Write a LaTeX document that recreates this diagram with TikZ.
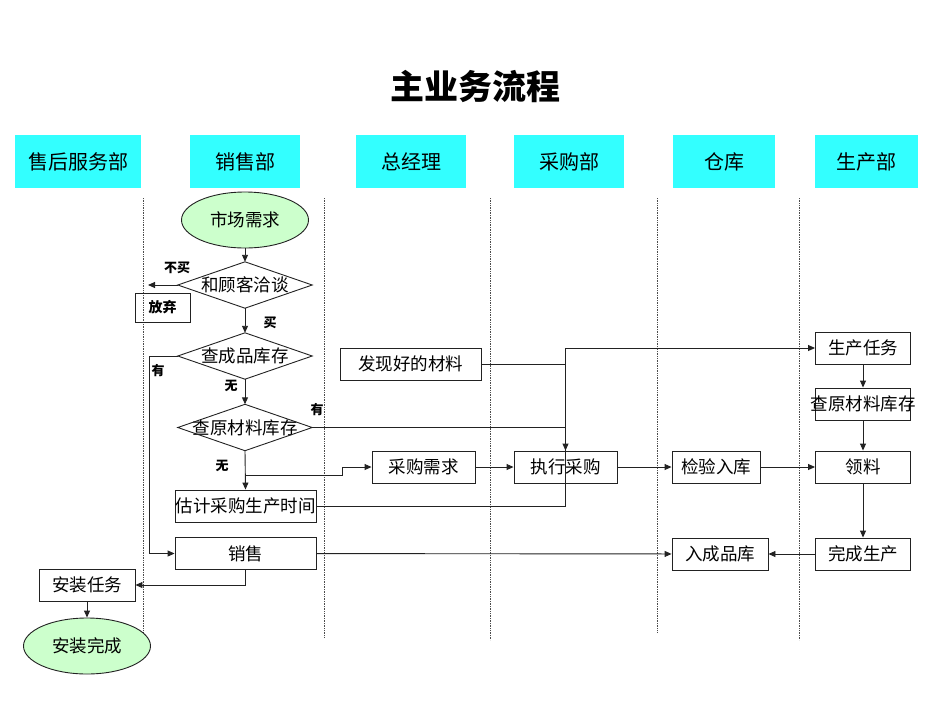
\documentclass[tikz,border=0pt]{standalone}
\usepackage{fontspec}
\setmainfont{Noto Sans CJK SC}
\usetikzlibrary{arrows.meta,shapes.geometric}
\definecolor{hdr}{HTML}{33FFFF}
\definecolor{oval}{HTML}{CCFFCC}
\definecolor{ln}{HTML}{222222}
\begin{document}
\begin{tikzpicture}[x=1pt,y=-1pt,
  hdrbox/.style={fill=hdr, minimum height=53pt, inner sep=0pt, font=\fontsize{20}{22}\selectfont},
  box/.style={draw=ln, line width=0.9pt, minimum height=32pt, inner sep=0pt, font=\fontsize{17.5}{19}\selectfont},
  ov/.style={draw=ln, line width=0.9pt, ellipse, fill=oval, minimum width=127pt, minimum height=56pt, inner sep=0pt, font=\fontsize{17.5}{19}\selectfont},
  dia/.style={minimum width=134pt, minimum height=46pt, inner sep=0pt, font=\fontsize{17.5}{19}\selectfont},
  diaframe/.style={draw=ln, line width=0.9pt},
  lbl/.style={font=\fontsize{13}{15}\selectfont\bfseries, inner sep=0pt},
  lane/.style={draw=black!70, line width=0.7pt, densely dotted},
  con/.style={draw=ln, line width=0.9pt},
  arr/.style={con, -{Triangle[length=7pt,width=6pt]}}
]
\useasboundingbox (0,0) rectangle (950,713);

% title
\node[font=\fontsize{34}{36}\selectfont\bfseries] (title) at (475,86) {主业务流程};

% headers
\node[hdrbox, minimum width=126pt] (h1) at (78,161.5) {售后服务部};
\node[hdrbox, minimum width=110pt] (h2) at (245,161.5) {销售部};
\node[hdrbox, minimum width=110pt] (h3) at (411,161.5) {总经理};
\node[hdrbox, minimum width=110pt] (h4) at (569,161.5) {采购部};
\node[hdrbox, minimum width=102pt] (h5) at (724,161.5) {仓库};
\node[hdrbox, minimum width=103pt] (h6) at (866.5,161.5) {生产部};

% lanes
\draw[lane] (143,198) -- (143,632);
\draw[lane] (324,198) -- (324,638);
\draw[lane] (490,198) -- (490,640);
\draw[lane] (657,198) -- (657,632);
\draw[lane] (799,198) -- (799,640);

% sales column
\node[ov] (mkt) at (245,220) {市场需求};
\node[dia] (d1) at (245,285) {和顾客洽谈};
\draw[diaframe] (d1.west) -- (d1.north) -- (d1.east) -- (d1.south) -- cycle;
\node[dia] (d2) at (245,356) {查成品库存};
\draw[diaframe] (d2.west) -- (d2.north) -- (d2.east) -- (d2.south) -- cycle;
\node[dia] (d3) at (245,427.5) {查原材料库存};
\draw[diaframe] (d3.west) -- (d3.north) -- (d3.east) -- (d3.south) -- cycle;
\node[box, minimum width=141pt] (est) at (245.5,506) {\makebox[0pt]{估计采购生产时间}};
\node[box, minimum width=141pt] (sale) at (245.5,553.5) {销售};
\node[draw=ln, line width=0.9pt, minimum width=55pt, minimum height=29pt, inner sep=0pt, font=\fontsize{14}{16}\selectfont\bfseries] (quit) at (162.5,307.5) {放弃};
\coordinate (nb) at (148,285);

% after-sales column
\node[box, minimum width=96pt] (inst) at (87,585) {安装任务};
\node[ov] (fin) at (87,646) {安装完成};

% GM column
\node[box, minimum width=141pt] (find) at (410.5,364) {发现好的材料};
\node[box, minimum width=103pt] (req) at (423.5,467) {采购需求};

% purchasing
\node[box, minimum width=103pt] (exec) at (565.5,467) {执行采购};

% warehouse
\node[box, minimum width=88pt] (insp) at (716,467) {检验入库};
\node[box, minimum width=96pt] (stock) at (720,554) {入成品库};

% production
\node[box, minimum width=95pt] (task) at (863,348) {生产任务};
\node[box, minimum width=95pt] (chk) at (863,404) {\makebox[0pt]{查原材料库存}};
\node[box, minimum width=95pt] (pick) at (863,467) {领料};
\node[box, minimum width=95pt] (done) at (863,554) {完成生产};

% labels
\node[lbl] (l1) at (177,268) {不买};
\node[lbl] (l2) at (270,323) {买};
\node[lbl] (l3) at (158,371) {有};
\node[lbl] (l4) at (231,386) {无};
\node[lbl] (l5) at (317,410) {有};
\node[lbl] (l6) at (222,466) {无};

% connectors
\draw[arr] (mkt.south) -- (d1.north);
\draw[arr] (d1.west) -- (nb);
\draw[arr] (d1.south) -- (d2.north);
\draw[arr] (d2.west) -- ++(-28,0) |- (sale.west);
\draw[arr] (d2.south) -- (d3.north);
\draw[arr] (d3.south) -- (est.north);
\draw[arr] (d3.south |- 0,475) -- (342,475) |- (req.west);
\draw[con] (d3.east) -- (d3.east -| exec.north);
\draw[arr] (find.east) -| (exec.north);
\draw[arr] (est.east) -| (exec.north |- task.west) -- (task.west);
\draw[arr] (req) -- (exec);
\draw[arr] (exec) -- (insp);
\draw[arr] (insp) -- (pick);
\draw[arr] (task) -- (chk);
\draw[arr] (chk) -- (pick);
\draw[arr] (pick) -- (done);
\draw[arr] (done) -- (stock);
\draw[arr] (sale) -- (stock);
\draw[arr] (sale.south) |- (inst.east);
\draw[arr] (inst) -- (fin);
\end{tikzpicture}
\end{document}
